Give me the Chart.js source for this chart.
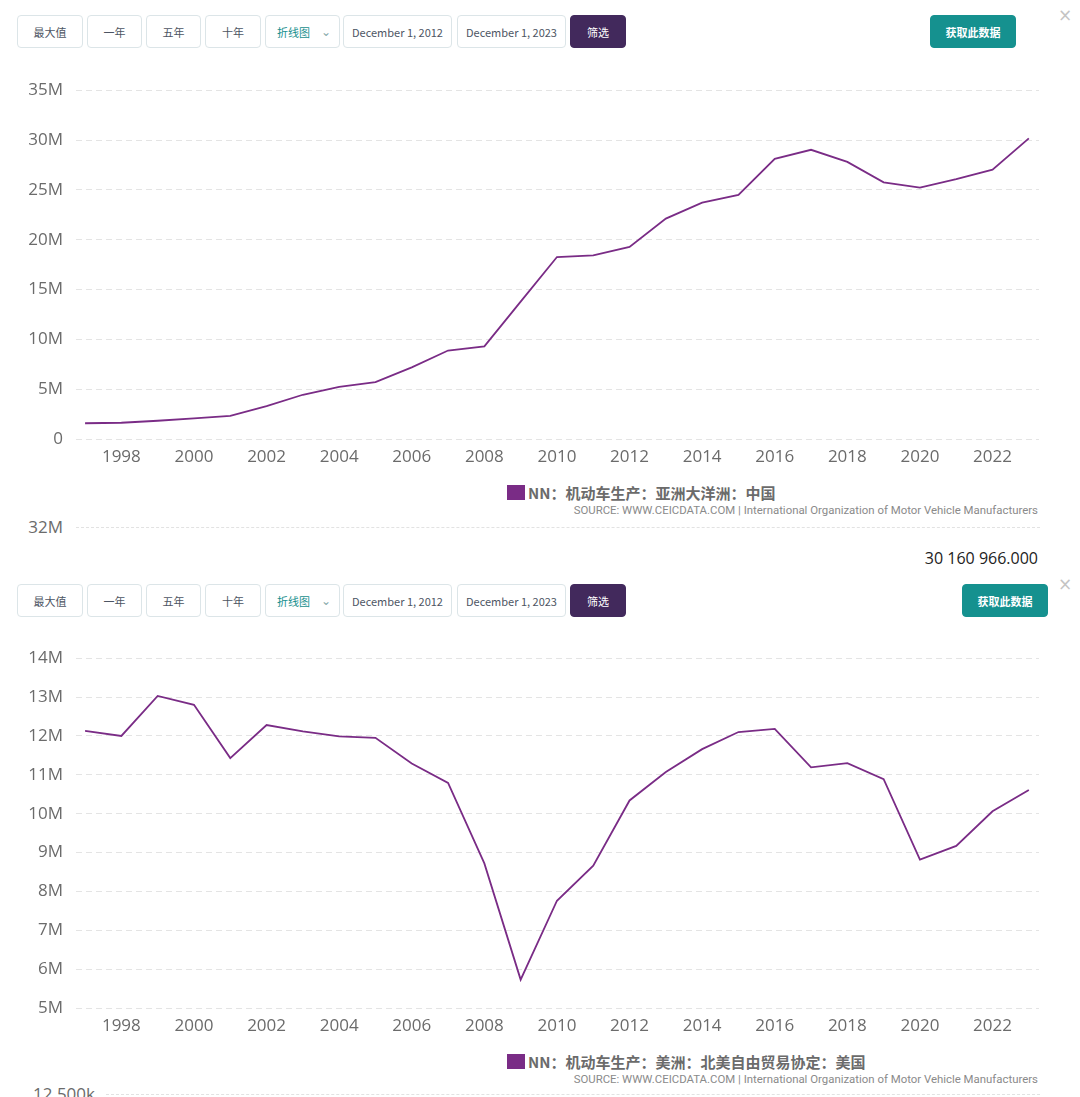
<!DOCTYPE html>
<html>
<head>
<meta charset="utf-8">
<script src="https://cdn.jsdelivr.net/npm/chart.js@4.4.1/dist/chart.umd.min.js"></script>
<style>
  body { margin: 0; background: #fff; font-family: "Noto Sans CJK SC", "Open Sans", sans-serif; width: 1080px; height: 1097px; overflow: hidden; position: relative; }
  .bar { position: absolute; left: 0; width: 1080px; height: 33px; }
  .btn { position: absolute; top: 0; border: 1px solid #dce5e8; border-radius: 4px; box-sizing: border-box; height: 33px;
         font-size: 11px; color: #4d5563; display: flex; align-items: center; justify-content: center; background: #fff; }
  .sel { color: #19908e; justify-content: flex-start; padding-left: 11px; }
  .sel::after { content: "⌄"; position: absolute; right: 8px; top: 6px; color: #8aa; font-size: 12px; }
  .go { background: #42295c; border-color: #42295c; color: #fff; }
  .get { background: #15918f; border-color: #15918f; color: #fff; font-weight: bold; }
  .close { position: absolute; color: #c4c4c4; font-size: 17px; font-family: "DejaVu Sans", sans-serif; }
  canvas { position: absolute; left: 0; }
  .legend { position: absolute; font-size: 15px; font-weight: bold; color: #6b6b6b; display: flex; align-items: center; }
  .legend i { display: inline-block; width: 18px; height: 15px; background: #7a2c86; margin-right: 3px; }
  .src { position: absolute; right: 42px; font-size: 11.4px; color: #8a8a8a; font-family: Roboto, sans-serif; }
  .stub { position: absolute; left: 0; width: 1040px; height: 20px; }
  .stub span { position: absolute; font-size: 17px; color: #6b6b6b; font-family: "Open Sans", sans-serif; line-height: 20px; white-space: nowrap; }
  .stub b { position: absolute; right: 0; top: 10px; border-top: 1px dashed #e2e2e2; }
  .total { position: absolute; right: 42px; top: 547px; font-size: 16px; color: #222; font-family: "Open Sans", sans-serif; }
</style>
</head>
<body>

<div class="bar" style="top:15px">
  <div class="btn" style="left:17px;width:66px">最大值</div>
  <div class="btn" style="left:87px;width:55px">一年</div>
  <div class="btn" style="left:146px;width:55px">五年</div>
  <div class="btn" style="left:205px;width:56px">十年</div>
  <div class="btn sel" style="left:265px;width:75px">折线图</div>
  <div class="btn" style="left:343px;width:109px">December 1, 2012</div>
  <div class="btn" style="left:457px;width:109px">December 1, 2023</div>
  <div class="btn go" style="left:570px;width:56px">筛选</div>
  <div class="btn get" style="left:930px;width:86px">获取此数据</div>
  <div class="close" style="left:1058px;top:-10px">×</div>
</div>

<canvas id="chart-china" width="1060" height="402" style="top:67px"></canvas>
<div class="legend" style="left:507px;top:482px"><i></i>NN：机动车生产：亚洲大洋洲：中国</div>
<div class="src" style="top:503px">SOURCE: WWW.CEICDATA.COM | International Organization of Motor Vehicle Manufacturers</div>

<div class="stub" style="top:517px"><span style="right:977px">32M</span><b style="left:76px"></b></div>
<div class="total">30 160 966.000</div>

<div class="bar" style="top:584px">
  <div class="btn" style="left:17px;width:66px">最大值</div>
  <div class="btn" style="left:87px;width:55px">一年</div>
  <div class="btn" style="left:146px;width:55px">五年</div>
  <div class="btn" style="left:205px;width:56px">十年</div>
  <div class="btn sel" style="left:265px;width:75px">折线图</div>
  <div class="btn" style="left:343px;width:109px">December 1, 2012</div>
  <div class="btn" style="left:457px;width:109px">December 1, 2023</div>
  <div class="btn go" style="left:570px;width:56px">筛选</div>
  <div class="btn get" style="left:962px;width:86px">获取此数据</div>
  <div class="close" style="left:1058px;top:-10px">×</div>
</div>

<canvas id="chart-usa" width="1060" height="403" style="top:635px"></canvas>
<div class="legend" style="left:507px;top:1051px"><i></i>NN：机动车生产：美洲：北美自由贸易协定：美国</div>
<div class="src" style="top:1072px">SOURCE: WWW.CEICDATA.COM | International Organization of Motor Vehicle Manufacturers</div>

<div class="stub" style="top:1084px"><span style="right:945px">12 500k</span><b style="left:106px"></b></div>

<script>
const years = [1997, 1998, 1999, 2000, 2001, 2002, 2003, 2004, 2005, 2006, 2007, 2008, 2009,
               2010, 2011, 2012, 2013, 2014, 2015, 2016, 2017, 2018, 2019, 2020, 2021, 2022, 2023];
const yearTicks = [1998, 2000, 2002, 2004, 2006, 2008, 2010, 2012, 2014, 2016, 2018, 2020, 2022];

// motor vehicle production, units
const chinaValues = [1.58e6, 1.63e6, 1.83e6, 2.07e6, 2.33e6, 3.29e6, 4.44e6, 5.23e6, 5.71e6, 7.19e6,
                     8.88e6, 9.30e6, 13.79e6, 18.26e6, 18.42e6, 19.27e6, 22.12e6, 23.72e6, 24.50e6,
                     28.12e6, 29.02e6, 27.81e6, 25.75e6, 25.23e6, 26.08e6, 27.02e6, 30.16e6];
const usaValues = [12.13e6, 12.00e6, 13.03e6, 12.80e6, 11.43e6, 12.28e6, 12.12e6, 11.99e6, 11.95e6,
                   11.29e6, 10.79e6, 8.72e6, 5.73e6, 7.76e6, 8.66e6, 10.34e6, 11.07e6, 11.66e6,
                   12.10e6, 12.18e6, 11.19e6, 11.30e6, 10.89e6, 8.82e6, 9.17e6, 10.06e6, 10.61e6];

const lineColor = '#7a2c86';
const tickColor = '#6b6b6b';

const fmtM = (v) => v === 0 ? '0' : (v / 1e6) + 'M';

function makeChart(id, values, yMin, yMax, yStep) {
    const ctx = document.getElementById(id).getContext('2d');
    return new Chart(ctx, {
        type: 'line',
        data: {
            datasets: [{
                data: years.map((y, i) => ({ x: y, y: values[i] })),
                borderColor: lineColor,
                borderWidth: 1.8,
                pointRadius: 0,
                tension: 0,
                fill: false
            }]
        },
        options: {
            responsive: false,
            animation: false,
            layout: { padding: { top: 10, right: 21 } },
            scales: {
                x: {
                    type: 'linear',
                    min: 1996.75,
                    max: 2023.28,
                    afterBuildTicks: (scale) => { scale.ticks = yearTicks.map(v => ({ value: v })); },
                    afterFit: (scale) => { scale.height = 30; },
                    ticks: { color: tickColor, font: { family: 'Open Sans', size: 17 }, padding: 0,
                             maxRotation: 0, callback: (v) => String(v) },
                    grid: { display: false },
                    border: { display: false }
                },
                y: {
                    min: yMin,
                    max: yMax,
                    afterFit: (scale) => { scale.width = 76; },
                    ticks: { stepSize: yStep, color: tickColor, font: { family: 'Open Sans', size: 17 },
                             padding: 13, callback: fmtM },
                    grid: { color: '#e4e4e4', drawTicks: false, lineWidth: 1 },
                    border: { display: false, dash: [6, 4] }
                }
            },
            plugins: { legend: { display: false }, tooltip: { enabled: false } }
        }
    });
}

makeChart('chart-china', chinaValues, 0, 35e6, 5e6);
makeChart('chart-usa', usaValues, 5e6, 14e6, 1e6);
</script>
</body>
</html>
